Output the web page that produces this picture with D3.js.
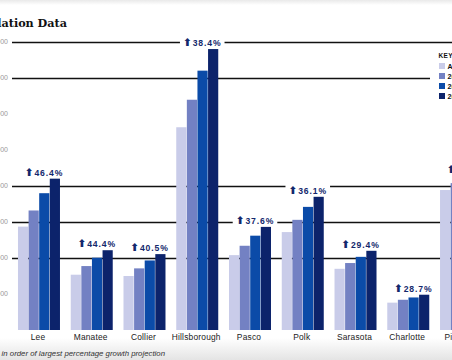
<!DOCTYPE html>
<html>
<head>
<meta charset="utf-8">
<script src="https://cdn.jsdelivr.net/npm/d3@7"></script>
<style>
  body { margin: 0; background: #fff; }
  svg { display: block; overflow: hidden; }
</style>
</head>
<body>
<svg width="452" height="360"></svg>
<script>
const counties = ['Lee', 'Manatee', 'Collier', 'Hillsborough', 'Pasco', 'Polk', 'Sarasota', 'Charlotte', 'Pinellas']
const seriesNames = ['Actual', '2030', '2040', '2050']
const actual = [718000, 384000, 375000, 1408000, 520000, 680000, 425000, 190000, 972000]
const proj2030 = [830000, 444000, 428000, 1599000, 585000, 765000, 465000, 210000, 1020000]
const proj2040 = [950000, 502000, 483000, 1801000, 655000, 855000, 508000, 226000, 1048000]
const proj2050 = [1051000, 554000, 527000, 1951000, 716000, 925000, 550000, 245000, 1070000]
const growth = ['46.4%', '44.4%', '40.5%', '38.4%', '37.6%', '36.1%', '29.4%', '28.7%', '10.1%']
const tickValues = [0, 250000, 500000, 750000, 1000000, 1250000, 1500000, 1750000, 2000000]
const ruledTicks = [500000, 750000, 1000000, 1750000, 2000000]

const colors = ['#c9cce9', '#7381c3', '#0b4ba8', '#0c236b']
const labelColor = '#13286c'

const svg = d3.select('svg')
const W = 452, H = 360

// page shading top + bottom
const defs = svg.append('defs')
const gb = defs.append('linearGradient').attr('id', 'btm').attr('x1', 0).attr('x2', 0).attr('y1', 0).attr('y2', 1)
gb.append('stop').attr('offset', '0%').attr('stop-color', '#ffffff')
gb.append('stop').attr('offset', '100%').attr('stop-color', '#e4e4e4')
const gt = defs.append('linearGradient').attr('id', 'top').attr('x1', 0).attr('x2', 0).attr('y1', 0).attr('y2', 1)
gt.append('stop').attr('offset', '0%').attr('stop-color', '#e9e9e9')
gt.append('stop').attr('offset', '100%').attr('stop-color', '#ffffff')
svg.append('rect').attr('x', 0).attr('y', 0).attr('width', W).attr('height', 5).attr('fill', 'url(#top)')
svg.append('rect').attr('x', 0).attr('y', 338).attr('width', W).attr('height', 22).attr('fill', 'url(#btm)')

// title (its start lies left of the page)
svg.append('text')
    .attr('x', 67).attr('y', 27)
    .attr('text-anchor', 'end')
    .style('font-family', 'DejaVu Serif')
    .style('font-weight', 'bold')
    .style('font-size', '11.2px')
    .style('fill', '#111')
    .text('Population Data')

const y = d3.scaleLinear().domain([0, 2000000]).range([330, 42])
const x = d3.scaleBand().domain(counties).range([12.6, 487.4]).paddingInner(0.204).paddingOuter(0.102)
const xs = d3.scaleBand().domain(seriesNames).range([0, x.bandwidth()]).paddingInner(0.04)

// tick labels
svg.append('g').selectAll('text')
    .data(tickValues.filter(v => v > 0))
    .enter().append('text')
    .attr('x', 8).attr('y', d => y(d)).attr('dy', '0.33em')
    .attr('text-anchor', 'end')
    .style('font-family', 'Liberation Sans, Arial')
    .style('font-size', '7px')
    .style('fill', '#9a9a9a')
    .text(d => d3.format(',')(d))

// rules
svg.append('g').selectAll('line')
    .data(ruledTicks)
    .enter().append('line')
    .attr('x1', 12).attr('x2', W)
    .attr('y1', d => Math.round(y(d)) + 0.5).attr('y2', d => Math.round(y(d)) + 0.5)
    .attr('stroke', '#111').attr('stroke-width', 1.3)

// bars
const rows = counties.map((c, i) => ({
    county: c,
    growth: growth[i],
    values: [actual[i], proj2030[i], proj2040[i], proj2050[i]]
}))

const groups = svg.append('g').selectAll('g')
    .data(rows)
    .enter().append('g')
    .attr('transform', d => `translate(${x(d.county)},0)`)

groups.selectAll('rect')
    .data(d => d.values.map((v, k) => ({ key: seriesNames[k], value: v, k })))
    .enter().append('rect')
    .attr('x', d => xs(d.key))
    .attr('width', xs.bandwidth())
    .attr('y', d => y(d.value))
    .attr('height', d => y(0) - y(d.value))
    .attr('fill', d => colors[d.k])

// growth labels
groups.each(function (d) {
    const g = d3.select(this)
    const top = y(d3.max(d.values))
    const t = g.append('text')
        .attr('x', x.bandwidth() / 2 + 5)
        .attr('y', top - 3)
        .attr('text-anchor', 'middle')
        .style('font-family', 'Liberation Sans, Arial')
        .style('font-weight', 'bold')
        .style('font-size', '8.6px')
        .style('letter-spacing', '0.9px')
        .style('fill', labelColor)
    t.append('tspan').style('font-family', 'DejaVu Sans').style('font-size', '10.5px').text('\u2B06')
    t.append('tspan').text(d.growth)
    const bb = t.node().getBBox()
    g.insert('rect', 'text')
        .attr('x', bb.x - 3).attr('y', bb.y - 1)
        .attr('width', bb.width + 6).attr('height', bb.height + 1)
        .attr('fill', '#fff')
})

// county names
svg.append('g').selectAll('text')
    .data(counties)
    .enter().append('text')
    .attr('x', d => x(d) + x.bandwidth() / 2 - 1)
    .attr('y', 339.5)
    .attr('text-anchor', 'middle')
    .style('font-family', 'Liberation Sans, Arial')
    .style('font-size', '8.4px')
    .style('letter-spacing', '0.2px')
    .style('fill', '#222')
    .text(d => d)

// legend
const lg = svg.append('g').attr('transform', 'translate(430,48)')
lg.append('rect').attr('x', 0).attr('y', 0).attr('width', 80).attr('height', 56).attr('fill', '#fff')
lg.append('text').attr('x', 8.5).attr('y', 9.5)
    .style('font-family', 'Liberation Sans, Arial').style('font-weight', 'bold')
    .style('font-size', '6.5px').style('fill', '#111').style('letter-spacing', '0.4px')
    .text('KEY')
seriesNames.forEach((s, k) => {
    lg.append('rect').attr('x', 9).attr('y', 15 + k * 10).attr('width', 6).attr('height', 6).attr('fill', colors[k])
    lg.append('text').attr('x', 17.5).attr('y', 21 + k * 10)
        .style('font-family', 'Liberation Sans, Arial').style('font-weight', 'bold')
        .style('font-size', '7px').style('fill', '#111')
        .text(s)
})

// footnote
svg.append('text')
    .attr('x', 165).attr('y', 356)
    .attr('text-anchor', 'end')
    .style('font-family', 'Liberation Sans, Arial')
    .style('font-style', 'italic')
    .style('font-size', '7.8px')
    .style('fill', '#333')
    .text('*Counties listed in order of largest percentage growth projection')
</script>
</body>
</html>
